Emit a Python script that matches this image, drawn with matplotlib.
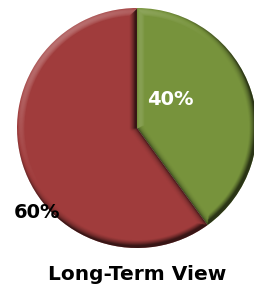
import numpy as np
import matplotlib
matplotlib.use("Agg")
from matplotlib import pyplot as plt

# data
labels = ['Green', 'Red']
shares = [40, 60]
pct_text = ['40%', '60%']
colors = ['#77933C', '#A03C3C']
text_colors = ['white', 'black']
label_pos = [(0.28, 0.24), (-0.83, -0.70)]  # label anchors, pie radius units
title = 'Long-Term View'

W, H, DPI = 254, 287, 100
BEVEL = 0.065            # bevel band width, radius units
LIGHT = np.array([-0.45, 0.55, 0.70]); LIGHT = LIGHT / np.linalg.norm(LIGHT)


def bevel_overlay(theta1, theta2, n=480):
    """rgba shading of a soft-round bevel for one wedge (light from top-left)"""
    g = np.linspace(-1, 1, n)
    x, y = np.meshgrid(g, g)
    rho = np.hypot(x, y) + 1e-9
    a1, a2 = np.radians(theta1), np.radians(theta2)

    # distance + outward normal to the arc
    d_arc = 1 - rho
    nx_arc, ny_arc = x / rho, y / rho
    # first radial edge
    u1 = x * np.cos(a1) + y * np.sin(a1)
    d1 = np.where(u1 >= 0, y * np.cos(a1) - x * np.sin(a1), rho)
    n1x = np.where(u1 >= 0, np.sin(a1), -x / rho)
    n1y = np.where(u1 >= 0, -np.cos(a1), -y / rho)
    # second radial edge
    u2 = x * np.cos(a2) + y * np.sin(a2)
    d2 = np.where(u2 >= 0, x * np.sin(a2) - y * np.cos(a2), rho)
    n2x = np.where(u2 >= 0, -np.sin(a2), -x / rho)
    n2y = np.where(u2 >= 0, np.cos(a2), -y / rho)

    D = np.stack([d_arc, np.abs(d1), np.abs(d2)])
    NX = np.stack([nx_arc, n1x, n2x]); NY = np.stack([ny_arc, n1y, n2y])
    k = np.argmin(D, axis=0)
    d = np.take_along_axis(D, k[None], 0)[0]
    nx = np.take_along_axis(NX, k[None], 0)[0]
    ny = np.take_along_axis(NY, k[None], 0)[0]

    u = np.clip(d / BEVEL, 0, 1)
    slope = np.clip((1 - u) / np.sqrt(np.maximum(1 - (1 - u) ** 2, 1e-4)), 0, 3.0)
    N = np.stack([slope * nx, slope * ny, np.ones_like(u)])
    N = N / np.linalg.norm(N, axis=0)
    shade = N[0] * LIGHT[0] + N[1] * LIGHT[1] + N[2] * LIGHT[2] - LIGHT[2]

    rgba = np.zeros((n, n, 4))
    rgba[..., :3] = np.where(shade > 0, 1.0, 0.0)[..., None]
    rgba[..., 3] = np.clip(np.abs(shade) * np.where(shade > 0, 0.9, 1.1), 0, 0.65)
    return rgba


fig = plt.figure(figsize=(W / DPI, H / DPI), dpi=DPI)
fig.patch.set_facecolor('white')

# pie axes placed in pixels: center (137,159 from bottom), radius 120
cx, cy, r = 137, 159, 120
ax = fig.add_axes([(cx - r) / W, (cy - r) / H, 2 * r / W, 2 * r / H])

wedges, _ = ax.pie(shares, colors=colors, startangle=90, counterclock=False,
                   radius=1.0, wedgeprops=dict(edgecolor='none'))

for w in wedges:
    img = ax.imshow(bevel_overlay(w.theta1, w.theta2), extent=(-1, 1, -1, 1),
                    origin='lower', interpolation='bilinear', zorder=w.get_zorder() + 0.1)
    img.set_clip_path(w)

ax.set_xlim(-1, 1); ax.set_ylim(-1, 1)
ax.set_aspect('equal')
ax.axis('off')

for (x, y), t, c in zip(label_pos, pct_text, text_colors):
    ax.text(x, y, t, color=c, fontsize=14, fontweight='bold', ha='center', va='center',
            zorder=5)

fig.text(137.5 / W, 1 - 274 / H, title, fontsize=14.5, fontweight='bold',
         ha='center', va='center')

fig.savefig('out.png', dpi=DPI)
